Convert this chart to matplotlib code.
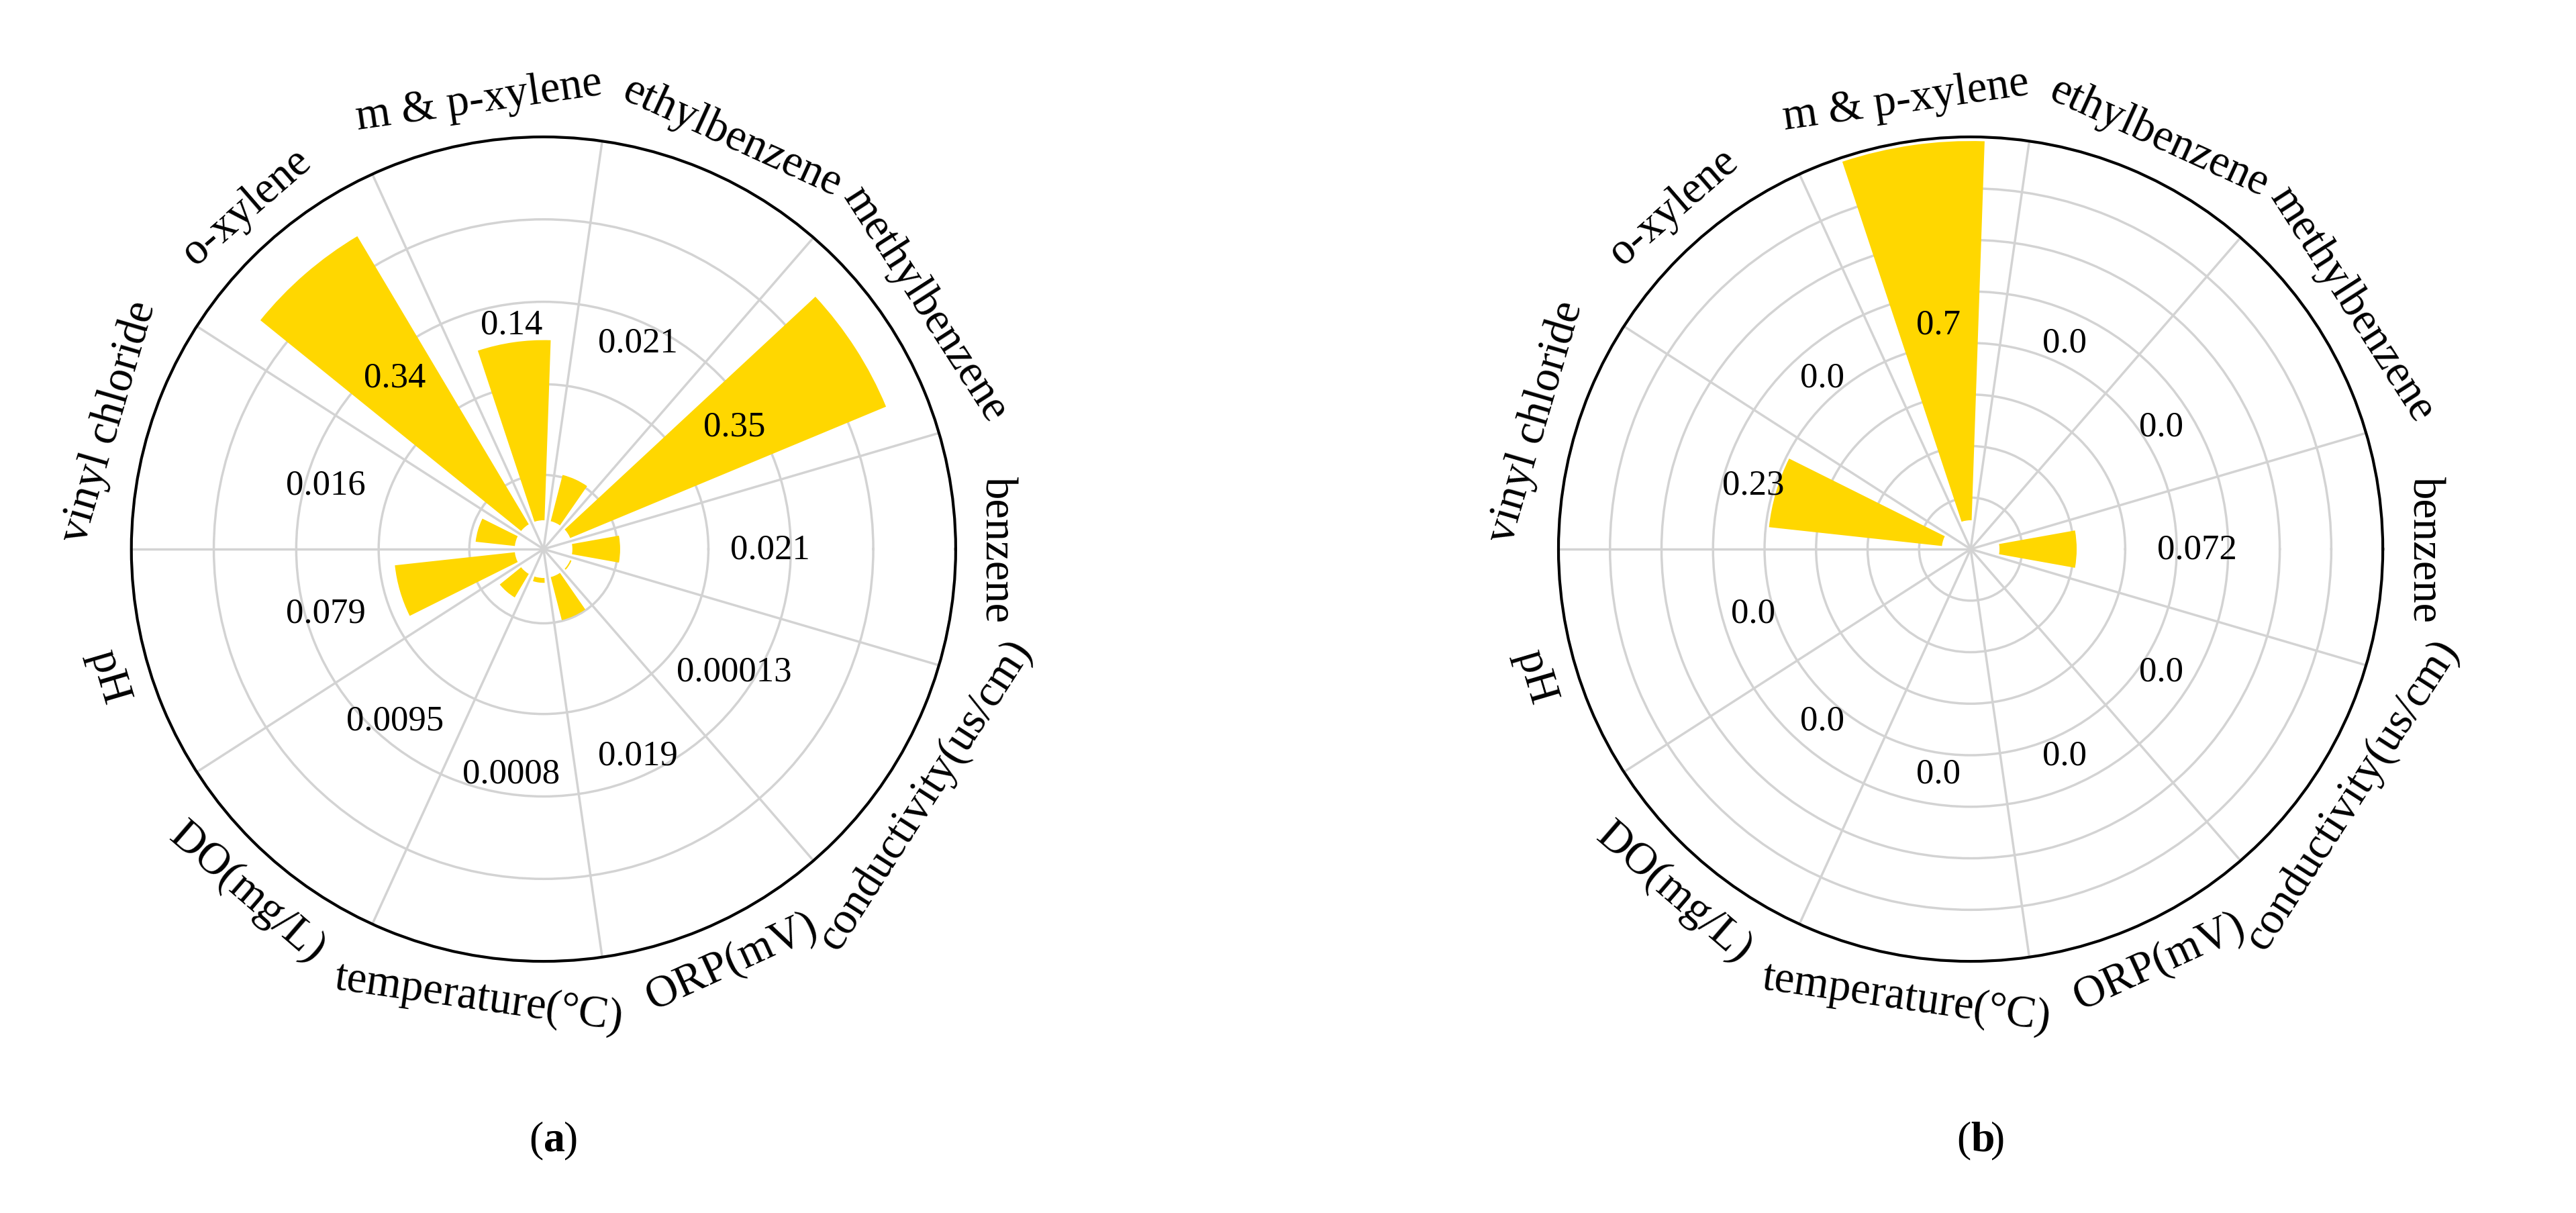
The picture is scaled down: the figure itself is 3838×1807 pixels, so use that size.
import numpy as np
import matplotlib
matplotlib.use("Agg")
import matplotlib.pyplot as plt

plt.rcParams['font.family'] = ['Liberation Serif', 'DejaVu Serif']

categories = ["benzene", "methylbenzene", "ethylbenzene", "m & p-xylene", "o-xylene",
              "vinyl chloride", "pH", "DO(mg/L)", "temperature(°C)", "ORP(mV)",
              "conductivity(us/cm)"]
values_a = [0.021, 0.35, 0.021, 0.14, 0.34, 0.016, 0.079, 0.0095, 0.0008, 0.019, 0.00013]
labels_a = ["0.021", "0.35", "0.021", "0.14", "0.34", "0.016", "0.079", "0.0095", "0.0008", "0.019", "0.00013"]
values_b = [0.072, 0.0, 0.0, 0.7, 0.0, 0.23, 0.0, 0.0, 0.0, 0.0, 0.0]
labels_b = ["0.072", "0.0", "0.0", "0.7", "0.0", "0.23", "0.0", "0.0", "0.0", "0.0", "0.0"]

fig = plt.figure(figsize=(38.38, 18.08), dpi=100)
n = len(categories)
step = 2*np.pi/n
theta = np.arange(n)*step

def panel(rect, vals, labs, rmax_frac, rings, tag):
    ax = fig.add_axes(rect, projection='polar')
    vmax = max(vals)
    base = 0.07
    h = np.array([0 if v == 0 else (rmax_frac-base)*(v/vmax)**0.7 for v in vals])
    ax.bar(theta, h, width=step*0.62, bottom=base, color='#FFD700', edgecolor='none', zorder=3)
    ax.set_ylim(0, 1)
    ax.set_yticks(rings)
    ax.set_yticklabels([])
    ax.set_xticks(theta + step/2)
    ax.set_xticklabels([])
    ax.grid(color='#d3d3d3', linewidth=2.5)
    ax.spines['polar'].set_linewidth(3)
    for t, lab in zip(theta, labs):
        ax.text(t, 0.55, lab, ha='center', va='center', fontsize=38, zorder=4)
    for t, c in zip(theta, categories):
        deg = np.degrees(t)
        rot = deg - 90 if deg < 180 else deg + 90
        ax.text(t, 1.1, c, ha='center', va='center', rotation=rot,
                rotation_mode='anchor', fontsize=48)
    cx = rect[0] + rect[2]/2
    fig.text(cx, 0.06, "(", fontsize=46, ha='right', va='center')
    fig.text(cx, 0.06, tag, fontsize=46, fontweight='bold', ha='left', va='center')
    fig.text(cx + 0.0078, 0.06, ")", fontsize=46, ha='left', va='center')
    return ax

panel([0.051, 0.207, 0.32, 0.68], values_a, labels_a, 0.9, [0.18, 0.4, 0.6, 0.8, 1.0], "a")
panel([0.605, 0.207, 0.32, 0.68], values_b, labels_b, 0.99,
      [0.125, 0.25, 0.375, 0.5, 0.625, 0.75, 0.875, 1.0], "b")

fig.savefig("out.png", dpi=100)
